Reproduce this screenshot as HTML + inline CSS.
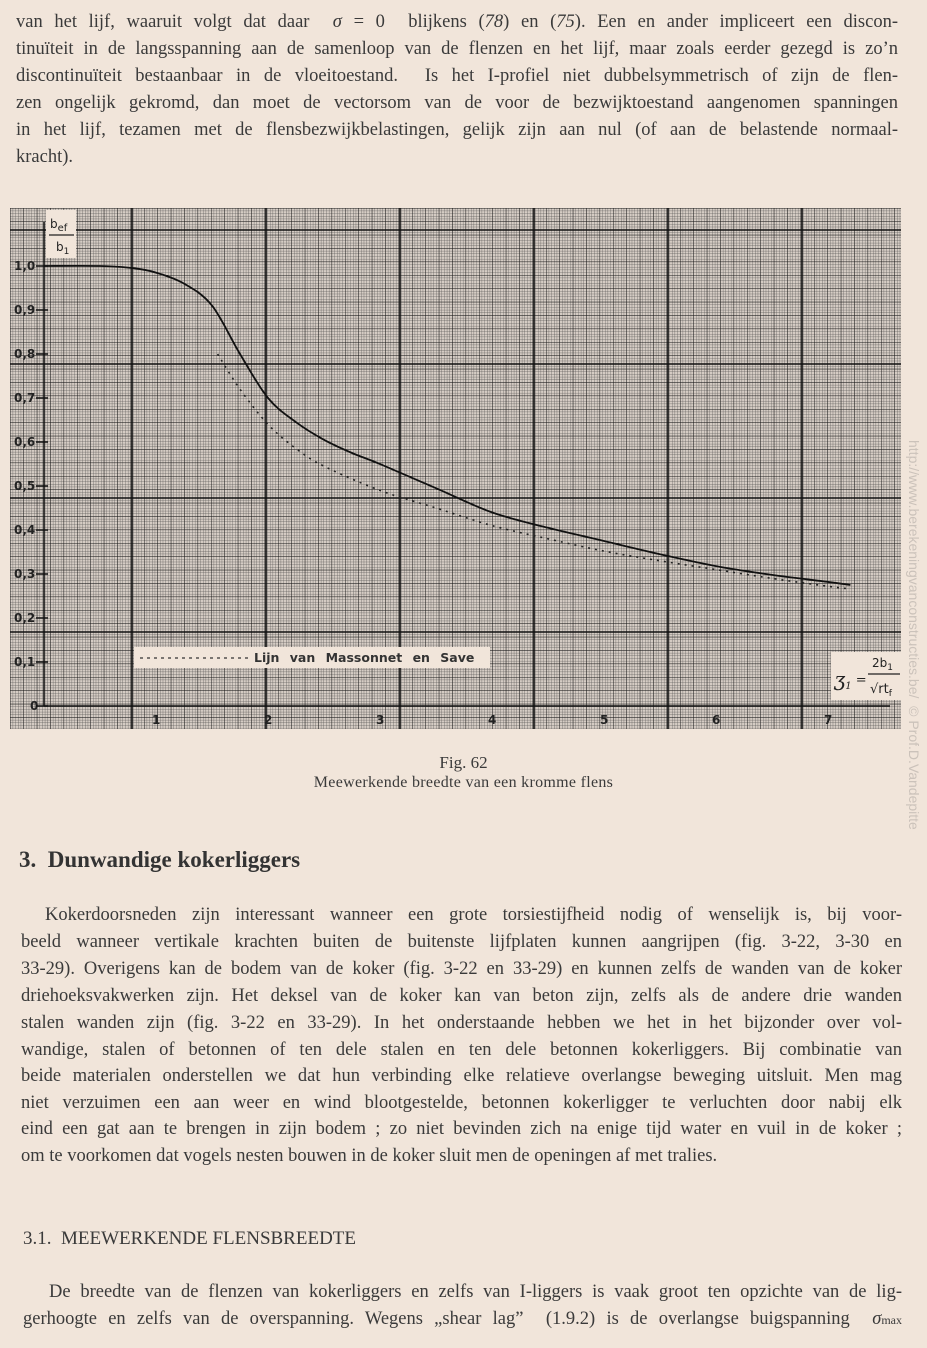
<!DOCTYPE html>
<html><head><meta charset="utf-8"><style>
body{margin:0;width:927px;height:1348px;background:#f1e5da;position:relative;overflow:hidden;font-family:"Liberation Serif",serif;color:#3a3a3a}
.l{position:absolute;font-size:18.5px;line-height:20px;white-space:nowrap;text-align:justify;text-align-last:justify}
.a{left:16px;width:882px}
.b{left:21px;width:881px}
#chart{position:absolute;left:0;top:0}
</style></head><body>
<div>
<div class="l a" style="top:12px">van het lijf, waaruit volgt dat daar &nbsp;<i>σ</i> = 0 &nbsp;blijkens (<i>78</i>) en (<i>75</i>). Een en ander impliceert een discon-</div>
<div class="l a" style="top:39px">tinuïteit in de langsspanning aan de samenloop van de flenzen en het lijf, maar zoals eerder gezegd is zo’n</div>
<div class="l a" style="top:66px">discontinuïteit bestaanbaar in de vloeitoestand. &nbsp;Is het I-profiel niet dubbelsymmetrisch of zijn de flen-</div>
<div class="l a" style="top:93px">zen ongelijk gekromd, dan moet de vectorsom van de voor de bezwijktoestand aangenomen spanningen</div>
<div class="l a" style="top:120px">in het lijf, tezamen met de flensbezwijkbelastingen, gelijk zijn aan nul (of aan de belastende normaal-</div>
<div class="l" style="top:147px;left:16px;text-align:left;text-align-last:left">kracht).</div>
</div>

<svg id="chart" width="927" height="760">
<defs>
<pattern id="fine" width="2.68" height="2.68" patternUnits="userSpaceOnUse" x="10" y="208"><path d="M0 0H2.68M0 0V2.68" stroke="#3a3a3a" stroke-width="0.7" fill="none"/></pattern>
<pattern id="med" width="13.4" height="13.4" patternUnits="userSpaceOnUse" x="10" y="208"><path d="M0 0H13.4M0 0V13.4" stroke="#111" stroke-width="1" fill="none"/></pattern>
</defs>
<g>
<rect x="10" y="208" width="891" height="521" fill="#d5ccc4"/>
<rect x="10" y="208" width="891" height="521" fill="url(#fine)" opacity="0.8"/>
<rect x="10" y="208" width="891" height="521" fill="url(#med)" opacity="0.9"/>
<g id="heavy" stroke="#111" stroke-width="1.6"></g>
</g>
<g id="axes" stroke="#111" stroke-width="1.5"></g>
<rect x="46" y="210" width="30" height="48" fill="#f1e5da"/>
<text x="50" y="228" font-family="DejaVu Sans" font-size="12" fill="#222">b<tspan font-size="10" dy="3">ef</tspan></text>
<line x1="49" y1="235" x2="74" y2="235" stroke="#222" stroke-width="1.2"/>
<text x="56" y="251" font-family="DejaVu Sans" font-size="12" fill="#222">b<tspan font-size="9" dy="3">1</tspan></text>
<g id="yticks"></g>
<g id="xticks"></g>
<g>
<rect x="134" y="647" width="356" height="21" fill="#f1e5da"/>
<line x1="140" y1="658" x2="248" y2="658" stroke="#333" stroke-width="1.2" stroke-dasharray="3,4"/>
<text x="254" y="662" font-family="DejaVu Sans" font-size="12.5" font-weight="bold" fill="#333" word-spacing="6">Lijn van Massonnet en Save</text>
</g>
<g>
<rect x="831" y="652" width="70" height="48" fill="#f1e5da"/>
<text x="834" y="686" font-family="DejaVu Serif" font-style="italic" font-size="20" fill="#222">ʒ<tspan font-size="10" dy="3">1</tspan><tspan dy="-5" font-size="13" font-style="normal"> =</tspan></text>
<text x="872" y="667" font-family="DejaVu Sans" font-size="12" fill="#222">2b<tspan font-size="9" dy="3">1</tspan></text>
<line x1="868" y1="674" x2="900" y2="674" stroke="#222" stroke-width="1.2"/>
<text x="870" y="693" font-family="DejaVu Sans" font-size="13" fill="#222">√rt<tspan font-size="9" dy="3">f</tspan></text>
</g>
<path id="solid" fill="none" stroke="#111" stroke-width="1.8"/>
<path id="dashed" fill="none" stroke="#222" stroke-width="1.6" stroke-dasharray="2,5"/>
</svg>

<div style="position:absolute;left:0;width:927px;text-align:center;top:753px;font-size:17px">Fig. 62</div>
<div style="position:absolute;left:0;width:927px;text-align:center;top:774px;font-size:16px;letter-spacing:0.3px">Meewerkende breedte van een kromme flens</div>

<div style="position:absolute;left:19px;top:847px;font-size:23px;font-weight:bold;color:#333">3.&nbsp;&nbsp;Dunwandige kokerliggers</div>

<div>
<div class="l b" style="top:905px;left:45px;width:857px">Kokerdoorsneden zijn interessant wanneer een grote torsiestijfheid nodig of wenselijk is, bij voor-</div>
<div class="l b" style="top:932px">beeld wanneer vertikale krachten buiten de buitenste lijfplaten kunnen aangrijpen (fig. 3-22, 3-30 en</div>
<div class="l b" style="top:959px">33-29). Overigens kan de bodem van de koker (fig. 3-22 en 33-29) en kunnen zelfs de wanden van de koker</div>
<div class="l b" style="top:986px">driehoeksvakwerken zijn. Het deksel van de koker kan van beton zijn, zelfs als de andere drie wanden</div>
<div class="l b" style="top:1013px">stalen wanden zijn (fig. 3-22 en 33-29). In het onderstaande hebben we het in het bijzonder over vol-</div>
<div class="l b" style="top:1040px">wandige, stalen of betonnen of ten dele stalen en ten dele betonnen kokerliggers. Bij combinatie van</div>
<div class="l b" style="top:1066px">beide materialen onderstellen we dat hun verbinding elke relatieve overlangse beweging uitsluit. Men mag</div>
<div class="l b" style="top:1093px">niet verzuimen een aan weer en wind blootgestelde, betonnen kokerligger te verluchten door nabij elk</div>
<div class="l b" style="top:1119px">eind een gat aan te brengen in zijn bodem ; zo niet bevinden zich na enige tijd water en vuil in de koker ;</div>
<div class="l" style="top:1146px;left:21px">om te voorkomen dat vogels nesten bouwen in de koker sluit men de openingen af met tralies.</div>
</div>

<div style="position:absolute;left:23px;top:1228px;font-size:19px">3.1.&nbsp;&nbsp;MEEWERKENDE FLENSBREEDTE</div>

<div>
<div class="l b" style="top:1282px;left:49px;width:853px">De breedte van de flenzen van kokerliggers en zelfs van I-liggers is vaak groot ten opzichte van de lig-</div>
<div class="l b" style="top:1309px;left:23px;width:879px">gerhoogte en zelfs van de overspanning. Wegens „shear lag” &nbsp;(1.9.2) is de overlangse buigspanning &nbsp;<i>σ</i><span style="font-size:12px">max</span></div>
</div>

<div style="position:absolute;left:904px;top:440px;width:20px;height:470px">
<div style="transform:rotate(90deg);transform-origin:0 0;position:absolute;left:18px;top:0;white-space:nowrap;font-family:'Liberation Sans',sans-serif;font-size:14px;color:#cbc2ba">http://www.berekeningvanconstructies.be/ &nbsp;© Prof.D.Vandepitte</div>
</div>

<script>
const solidX=[0,0.5,0.8,1.0,1.25,1.5,1.75,2.0,2.25,2.5,2.75,3.0,3.5,4.0,4.5,5.0,5.5,6.0,6.5,7.0,7.2];
const solidY=[1.0,1.0,0.995,0.985,0.96,0.91,0.8,0.7,0.645,0.605,0.575,0.55,0.495,0.44,0.405,0.375,0.345,0.318,0.298,0.282,0.275];
const dashX=[1.55,1.75,2.0,2.25,2.5,3.0,3.5,4.0,4.5,5.0,5.5,6.0,6.5,7.0,7.2];
const dashY=[0.8,0.72,0.64,0.585,0.545,0.49,0.45,0.41,0.38,0.352,0.33,0.31,0.29,0.272,0.266];
const yTicks=["0","0,1","0,2","0,3","0,4","0,5","0,6","0,7","0,8","0,9","1,0"];
const xTicks=["1","2","3","4","5","6","7"];
const sx=v=>44+v*112, sy=v=>706-v*440;
const ns="http://www.w3.org/2000/svg";
const heavy=document.getElementById('heavy');
for(let x=132;x<901;x+=134){const l=document.createElementNS(ns,'line');l.setAttribute('x1',x);l.setAttribute('x2',x);l.setAttribute('y1',208);l.setAttribute('y2',729);heavy.appendChild(l);}
for(let y=230;y<729;y+=134){const l=document.createElementNS(ns,'line');l.setAttribute('y1',y);l.setAttribute('y2',y);l.setAttribute('x1',10);l.setAttribute('x2',901);heavy.appendChild(l);}
const axes=document.getElementById('axes');
axes.innerHTML='<line x1="44" y1="706" x2="890" y2="706"/><line x1="44" y1="706" x2="44" y2="222"/>';
const yt=document.getElementById('yticks');
yTicks.forEach((t,i)=>{const v=i/10;const e=document.createElementNS(ns,'text');


e.setAttribute('x',t==="0"?30:14);e.setAttribute('y',sy(v)+4);e.setAttribute('font-family','DejaVu Sans');e.setAttribute('font-size','12');e.setAttribute('font-weight','bold');e.setAttribute('fill','#222');e.textContent=t;yt.appendChild(e);
const l=document.createElementNS(ns,'line');l.setAttribute('x1',36);l.setAttribute('x2',48);l.setAttribute('y1',sy(v));l.setAttribute('y2',sy(v));l.setAttribute('stroke','#111');l.setAttribute('stroke-width','1.5');yt.appendChild(l);});
const xt=document.getElementById('xticks');
xTicks.forEach((t,i)=>{const v=i+1;const e=document.createElementNS(ns,'text');


e.setAttribute('x',sx(v)-4);e.setAttribute('y',724);e.setAttribute('font-family','DejaVu Sans');e.setAttribute('font-size','12');e.setAttribute('font-weight','bold');e.setAttribute('fill','#222');e.textContent=t;xt.appendChild(e);});
function smooth(xs,ys){const p=xs.map((x,i)=>[sx(x),sy(ys[i])]);let d='M'+p[0][0]+' '+p[0][1];
for(let i=0;i<p.length-1;i++){const p0=p[i-1]||p[i],p1=p[i],p2=p[i+1],p3=p[i+2]||p2;
d+=` C${p1[0]+(p2[0]-p0[0])/6} ${p1[1]+(p2[1]-p0[1])/6} ${p2[0]-(p3[0]-p1[0])/6} ${p2[1]-(p3[1]-p1[1])/6} ${p2[0]} ${p2[1]}`;}return d;}
document.getElementById('solid').setAttribute('d',smooth(solidX,solidY));
document.getElementById('dashed').setAttribute('d',smooth(dashX,dashY));
</script>
</body></html>
